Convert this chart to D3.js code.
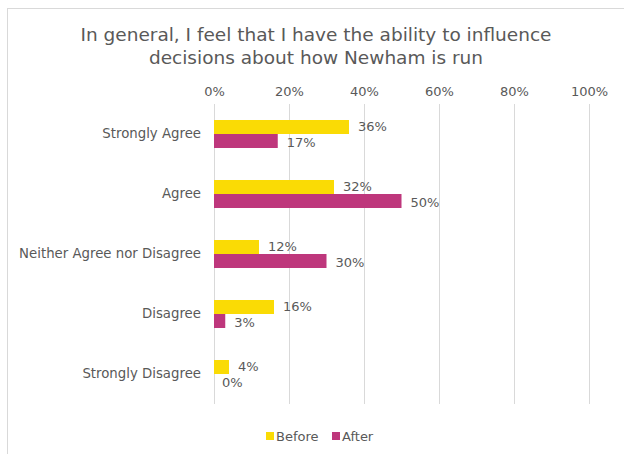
<!DOCTYPE html>
<html><head><meta charset="utf-8">
<script src="https://cdn.jsdelivr.net/npm/d3@7"></script>
<style>body{margin:0;background:#fff;} svg{display:block;}</style>
</head><body>
<script>
const categories = ["Strongly Agree","Agree","Neither Agree nor Disagree","Disagree","Strongly Disagree"];
const seriesNames = ["Before","After"];
const before = [36,32,12,16,4];
const after = [17,50,30,3,0];
const tickValues = [0,20,40,60,80,100];
const titleLines = ["In general, I feel that I have the ability to influence","decisions about how Newham is run"];
const colors = ["#FADB05","#BE377C"];

const W=624,H=454;
const font = "Verdana, 'DejaVu Sans', sans-serif";
const txt = "#595959";
const svg = d3.select("body").append("svg").attr("width",W).attr("height",H);
svg.append("rect").attr("x",7.5).attr("y",8.5).attr("width",W).attr("height",H).attr("fill","#fff").attr("stroke","#d9d9d9");

const x = d3.scaleLinear().domain([0,100]).range([214,589]);
const y = d3.scaleBand().domain(categories).range([104,404]);
const inner = d3.scaleBand().domain(seriesNames).range([0,28]);
const barOff = (y.bandwidth()-28)/2;

svg.selectAll("text.title").data(titleLines).join("text")
  .attr("x",316).attr("y",(d,i)=>41+i*23).attr("text-anchor","middle")
  .attr("font-family",font).attr("font-size",18.5).attr("fill",txt).text(d=>d);

// gridlines
svg.append("g").selectAll("line").data(tickValues).join("line")
  .attr("x1",d=>Math.round(x(d))+0.5).attr("x2",d=>Math.round(x(d))+0.5)
  .attr("y1",104).attr("y2",404).attr("stroke","#d9d9d9").attr("stroke-width",1);

const ax = svg.append("g").attr("transform","translate(0,96)")
  .call(d3.axisTop(x).tickValues(tickValues).tickFormat(d=>d+"%").tickSize(0).tickPadding(0));
ax.select(".domain").remove();
ax.selectAll("text").attr("font-family",font).attr("font-size",13).attr("fill",txt);

const ay = svg.append("g").attr("transform","translate(201,0)")
  .call(d3.axisLeft(y).tickSize(0).tickPadding(0));
ay.select(".domain").remove();
ay.selectAll("text").attr("font-family",font).attr("font-size",13.3).attr("fill",txt);

const rows = categories.map((c,i)=>({c, vals:[before[i],after[i]]}));
const g = svg.append("g");
rows.forEach(r=>{
  r.vals.forEach((v,j)=>{
    const s = seriesNames[j];
    const yy = y(r.c)+barOff+inner(s);
    g.append("rect").attr("x",x(0)).attr("y",yy).attr("width",x(v)-x(0)).attr("height",inner.bandwidth())
      .attr("fill",colors[j]);
    g.append("text").attr("x",x(v)+ (v===0?8:9)).attr("y",yy+inner.bandwidth()/2+5 + (j===0?-1:1))
      .attr("font-family",font).attr("font-size",13).attr("fill",txt).text(v+"%");
  });
});

// legend
const lg = svg.append("g");
const lx = [266,332];
seriesNames.forEach((s,i)=>{
  lg.append("rect").attr("x",lx[i]).attr("y",432).attr("width",8).attr("height",8).attr("fill",colors[i]);
  lg.append("text").attr("x",lx[i]+10).attr("y",441).attr("font-family",font).attr("font-size",13).attr("fill",txt).text(s);
});
</script>
</body></html>
